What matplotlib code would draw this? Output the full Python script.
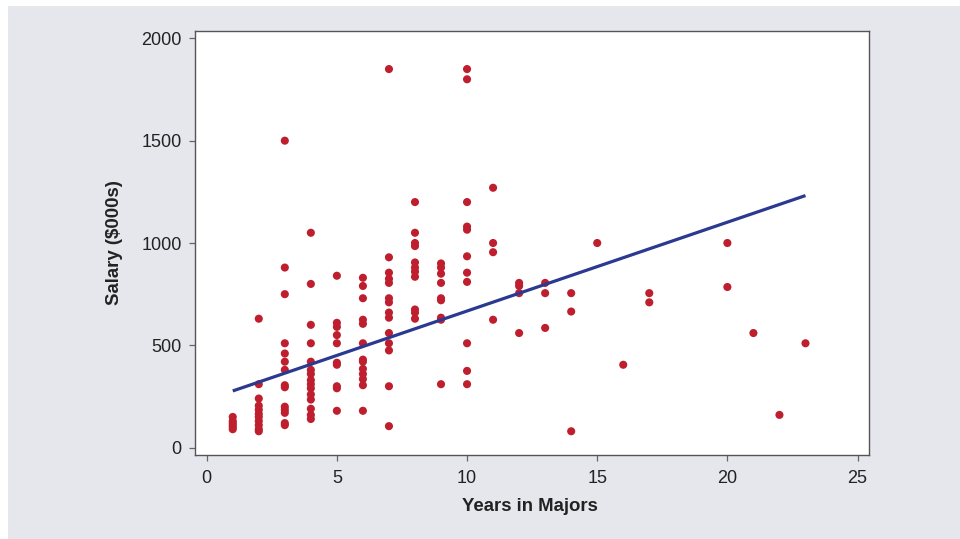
import matplotlib
matplotlib.use("Agg")
import matplotlib.pyplot as plt
from matplotlib.patches import Rectangle
import numpy as np

plt.rcParams['font.family'] = ['Liberation Sans', 'DejaVu Sans']

# Data: salary ($000s) by years in majors
years_1 = [150, 130, 120, 110, 100, 90]
years_2 = [630, 310, 240, 205, 185, 165, 150, 130, 110, 90, 80]
years_3 = [1500, 880, 750, 510, 460, 420, 380, 305, 295, 200, 185, 170, 120, 110]
years_4 = [1050, 800, 600, 510, 420, 380, 360, 330, 310, 290, 260, 235, 190, 160, 140]
years_5 = [840, 610, 590, 550, 510, 415, 405, 300, 290, 180]
years_6 = [830, 790, 730, 625, 605, 510, 430, 420, 385, 360, 335, 305, 180]
years_7 = [1850, 930, 855, 825, 805, 730, 710, 660, 635, 560, 510, 475, 300, 105]
years_8 = [1200, 1050, 1000, 985, 905, 880, 860, 835, 675, 660, 630]
years_9 = [900, 880, 850, 805, 730, 720, 635, 625, 310]
years_10 = [1850, 1800, 1200, 1080, 1065, 935, 855, 810, 510, 375, 310]
years_11 = [1270, 1000, 955, 625]
years_12 = [805, 790, 755, 560]
years_13 = [805, 755, 585]
years_14 = [755, 665, 80]
years_15 = [1000]
years_16 = [405]
years_17 = [755, 710]
years_20 = [1000, 785]
years_21 = [560]
years_22 = [160]
years_23 = [510]

salary_by_years = {
    1: years_1, 2: years_2, 3: years_3, 4: years_4, 5: years_5, 6: years_6,
    7: years_7, 8: years_8, 9: years_9, 10: years_10, 11: years_11,
    12: years_12, 13: years_13, 14: years_14, 15: years_15, 16: years_16,
    17: years_17, 20: years_20, 21: years_21, 22: years_22, 23: years_23,
}

# Fitted line
fit_x = [1, 23]
fit_intercept = 233.6
fit_slope = 43.4

x_ticks = [0, 5, 10, 15, 20, 25]
y_ticks = [0, 500, 1000, 1500, 2000]

xs = []
ys = []
for yr, vals in salary_by_years.items():
    xs.extend([yr] * len(vals))
    ys.extend(vals)

W, H = 960, 539
fig = plt.figure(figsize=(W / 100, H / 100), dpi=100)
fig.patch.set_facecolor('white')
fig.patches.append(Rectangle((8 / W, 0), 1 - 8 / W, (H - 6) / H,
                             transform=fig.transFigure, facecolor='#e6e7ec',
                             edgecolor='none', zorder=-10))

ax = fig.add_axes([195 / W, (H - 455) / H, (869 - 195) / W, (455 - 31) / H])
ax.set_facecolor('white')

ax.scatter(xs, ys, s=34, color='#be1e2d', edgecolors='none', zorder=3)
fx = np.array(fit_x, dtype=float)
ax.plot(fx, fit_intercept + fit_slope * fx, color='#2b3990', lw=2.3, zorder=4,
        solid_capstyle='butt')

ax.set_xlim(-0.45, 25.44)
ax.set_ylim(-36, 2036)
ax.set_xticks(x_ticks)
ax.set_yticks(y_ticks)
ax.set_xticklabels([str(t) for t in x_ticks])
ax.set_yticklabels([str(t) for t in y_ticks])

for sp in ax.spines.values():
    sp.set_color('#555555')
    sp.set_linewidth(1.0)

ax.tick_params(axis='both', direction='out', length=4.5, width=0.9,
               color='#666666', labelsize=13, labelcolor='#222222')
ax.tick_params(axis='y', pad=5)
ax.tick_params(axis='x', pad=6)

ax.set_xlabel('Years in Majors', fontsize=13.4, fontweight='bold', color='#222222')
ax.set_ylabel('Salary ($000s)', fontsize=13.4, fontweight='bold', color='#222222')
ax.xaxis.set_label_coords((530 - 195) / 674, (455 - 498) / 424)
ax.yaxis.set_label_coords((123 - 195) / 674, 0.5)

fig.savefig('out.png', dpi=100)
